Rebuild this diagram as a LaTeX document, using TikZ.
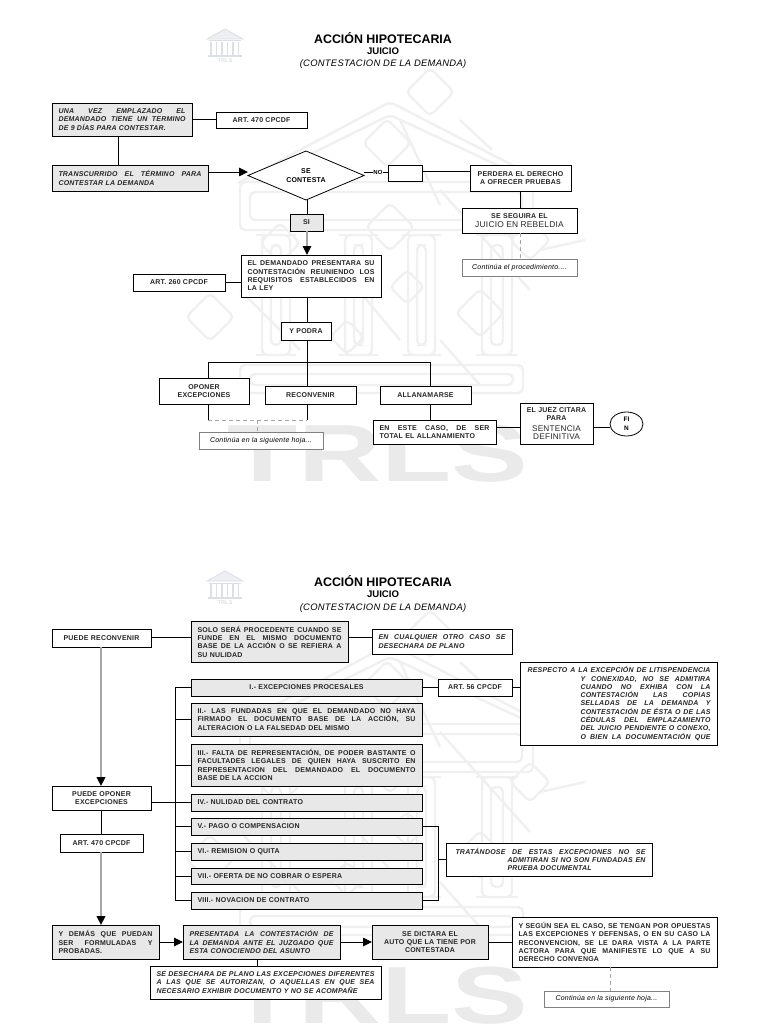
\documentclass[tikz,border=0pt]{standalone}
\usepackage{fontspec}
\setmainfont[LetterSpace=3]{Liberation Sans}
\newfontfamily\tfont{Liberation Sans}
\usetikzlibrary{arrows.meta,shapes.geometric,calc}
\definecolor{wm}{HTML}{F0F0F0}
\definecolor{wmt}{HTML}{EAEAEA}
\definecolor{logoc}{HTML}{DDDFE6}
\definecolor{boxg}{HTML}{E8E8E8}
\tikzset{
  x=1pt,y=-1pt,
  basebox/.style={draw=black,line width=.9pt,inner sep=0pt,outer sep=0pt,inner xsep=6.5pt,font=\fontsize{7}{8.3}\selectfont\bfseries,align=center,text=black!85},
  whitebox/.style={basebox,fill=white},
  greybox/.style={basebox,fill=boxg},
  leftbox/.style={align=left},
  itbox/.style={font=\fontsize{7}{8.3}\selectfont\bfseries\itshape},
  softbox/.style={draw=black!50,line width=.8pt,fill=white,inner sep=0pt,outer sep=0pt,align=center,font=\fontsize{7}{8}\selectfont\itshape,text=black},
  ln/.style={draw=black,line width=.9pt},
  gln/.style={draw=black!35,line width=1.4pt},
  arr/.style={-{Triangle[length=9pt,width=8.5pt,color=black]}},
  dsh/.style={draw=black!35,line width=.8pt,dash pattern=on 4pt off 3pt},
  wmline/.style={draw=wm,line width=2.4pt,rounded corners=5pt},
  ttl/.style={inner sep=0pt,text=black},
}
\newcommand\bx[7]{%
  \pgfmathsetmacro\bcx{(#2+#4)/2}\pgfmathsetmacro\bcy{(#3+#5)/2}%
  \pgfmathsetmacro\bw{#4-#2}\pgfmathsetmacro\bh{#5-#3}\pgfmathsetmacro\btw{#4-#2-13}%
  \node[#6,minimum width=\bw pt,minimum height=\bh pt,text width=\btw pt] (#1) at (\bcx,\bcy) {#7};}
\newcommand\jl[1]{\makebox[\hsize][s]{\spaceskip=1.9pt plus 1fil minus .6pt\relax #1}\\}
\newcommand\jw[2]{\makebox[#1pt][s]{\spaceskip=1.9pt plus 1fil minus .6pt\relax #2}\\}
\newcommand\dm[3]{\draw[wmline] (#1-#3,#2) -- (#1,#2-#3) -- (#1+#3,#2) -- (#1,#2+#3) -- cycle;}
\newcommand\watermark{%
  \draw[wmline] (238,183) -- (390,102) -- (547,183);
  \draw[wmline] (262,178) -- (390,115) -- (525,178);
  \draw[wmline] (240,182) rectangle (533,230);
  \draw[wmline] (250,192) rectangle (522,220);
  \foreach \cxa/\cxb in {262/290,345/372,408/435,482/512}{
    \draw[wmline] (\cxa,235) rectangle (\cxb,355);
    \draw[wmline] ({\cxa+9},245) rectangle ({\cxb-9},345);
    \draw[wmline] (\cxa-6,235) -- (\cxb+6,235);
    \draw[wmline] (\cxa-6,355) -- (\cxb+6,355);
  }
  \draw[wmline] (240,365) rectangle (523,393);
  \draw[wmline] (250,374) rectangle (513,385);
  \dm{430}{92}{24}\dm{387}{143}{24}\dm{390}{227}{24}\dm{210}{317}{24}
  \dm{480}{313}{24}\dm{347}{337}{17}\dm{407}{287}{17}\dm{530}{240}{20}\dm{280}{243}{20}
  \draw[wmline] (460,120) -- (492,150);
  \draw[wmline] (440,190) -- (530,290);
  \draw[wmline] (400,120) -- (440,205);
  \draw[wmline] (240,290) -- (300,350);
  \draw[wmline] (540,250) -- (585,240);
  \draw[wmline] (350,280) -- (400,340);
  \draw[wmline] (440,340) -- (480,385);
  \node[inner sep=0pt,xscale=1.42,transform shape,text=wmt,anchor=base] at (378,481)
    {\tfont\fontsize{81}{81}\selectfont\bfseries TRLS};
}
\newcommand\minilogo{%
  \draw[logoc,line width=.8pt,fill=logoc!50] (207,39) -- (225,29) -- (243,39) -- cycle;
  \draw[logoc,line width=1pt] (209,41) -- (241,41);
  \foreach \lx in {211,216.5,222,227.5,233,238.5}{\draw[logoc,line width=1.6pt] (\lx,42) -- (\lx,55);}
  \draw[logoc,line width=1.2pt] (208,56) -- (242,56);
  \node[inner sep=0pt,text=logoc] at (225,61) {\fontsize{5.5}{6}\selectfont\bfseries TRLS};
}
\begin{document}
\begin{tikzpicture}
\useasboundingbox (0,0) rectangle (768,1024);
\fill[white] (0,0) rectangle (768,1024);
\begin{scope}
\clip (0,0) rectangle (768,1024);
\begin{scope}\watermark\end{scope}
\begin{scope}[shift={(0,542)}]\watermark\end{scope}
\begin{scope}\minilogo\end{scope}
\begin{scope}[shift={(0,542)}]\minilogo\end{scope}
\end{scope}

% ---- titles
\node[ttl] (t1) at (383,38.5) {\tfont\fontsize{12.4}{14}\selectfont\bfseries ACCIÓN HIPOTECARIA};
\node[ttl] (t2) at (383,51) {\tfont\fontsize{9.6}{11}\selectfont\bfseries JUICIO};
\node[ttl] (t3) at (383,64.5) {\fontsize{9.4}{11}\selectfont\itshape (CONTESTACION DE LA DEMANDA)};
\node[ttl] (t4) at (383,581) {\tfont\fontsize{12.4}{14}\selectfont\bfseries ACCIÓN HIPOTECARIA};
\node[ttl] (t5) at (383,594) {\tfont\fontsize{9.6}{11}\selectfont\bfseries JUICIO};
\node[ttl] (t6) at (383,608) {\fontsize{9.4}{11}\selectfont\itshape (CONTESTACION DE LA DEMANDA)};

% ---- page 1 nodes
\bx{a1}{52}{103}{192}{136}{greybox,leftbox,itbox}{\jl{UNA VEZ EMPLAZADO EL}\jl{DEMANDADO TIENE UN TERMINO}DE 9 DÍAS PARA CONTESTAR.}
\bx{a2}{216}{112}{307}{128}{whitebox}{ART. 470 CPCDF}
\bx{a3}{52}{165}{208}{191}{greybox,leftbox,itbox}{\jl{TRANSCURRIDO EL TÉRMINO PARA}CONTESTAR LA DEMANDA}
\node[diamond,draw=black,line width=.8pt,fill=white,aspect=2.37,minimum width=116pt,minimum height=49pt,inner sep=0pt,outer sep=0pt,align=center,font=\fontsize{7}{9}\selectfont\bfseries] (dia) at (306,175.5) {SE\\CONTESTA};
\bx{si}{290}{214}{323}{231}{greybox}{SI}
\bx{a4}{241}{255}{381}{297}{whitebox,leftbox}{\jl{EL DEMANDADO PRESENTARA SU}\jl{CONTESTACIÓN REUNIENDO LOS}\jl{REQUISITOS ESTABLECIDOS EN}LA LEY}
\bx{a5}{133}{274}{225}{291}{whitebox}{ART. 260 CPCDF}
\bx{noe}{388}{165}{422}{181}{whitebox}{}
\bx{a6}{470}{165}{571}{191}{whitebox}{PERDERA EL DERECHO\\A OFRECER PRUEBAS}
\bx{a7}{462}{208}{577}{233}{whitebox}{SE SEGUIRA EL\\{\mdseries\fontsize{8.4}{9.4}\selectfont JUICIO EN REBELDIA}}
\node[softbox,minimum width=115pt,minimum height=17pt] (a8) at (519.5,267.5) {Continúa el procedimiento....};
\bx{a9}{281}{322}{331}{340}{whitebox}{Y PODRA}
\bx{b1}{159}{378}{249}{404}{whitebox}{OPONER\\EXCEPCIONES}
\bx{b2}{265}{386}{356}{404}{whitebox}{RECONVENIR}
\bx{b3}{380}{386}{471}{404}{whitebox}{ALLANAMARSE}
\node[softbox,minimum width=124pt,minimum height=17pt] (b4) at (261,440.5) {Continúa en la siguiente hoja...};
\bx{b5}{373}{420}{496}{444}{whitebox,leftbox}{\jl{EN ESTE CASO, DE SER}TOTAL EL ALLANAMIENTO}
\bx{b6}{520}{403}{593}{444}{whitebox}{EL JUEZ CITARA\\PARA\\[1pt]{\mdseries\fontsize{8.2}{9.6}\selectfont SENTENCIA\\DEFINITIVA}}
\node[ellipse,draw=black,line width=.8pt,fill=white,minimum width=33pt,minimum height=24pt,inner sep=0pt,outer sep=0pt,align=center,font=\fontsize{6.5}{8.5}\selectfont\bfseries] (fin) at (626.5,424) {FI\\N};

% ---- page 1 connector reference points
\coordinate (v1) at (118,0);
\coordinate (v2) at (520,0);
\coordinate (v3) at (208,0);
\coordinate (v4) at (307,0);
\coordinate (v5) at (430,0);
\coordinate (v6) at (257,0);
\coordinate (h1) at (0,172);
\coordinate (h2) at (0,171);
\coordinate (h3) at (0,362);
\coordinate (h4) at (0,420);
\coordinate (h5) at (0,427);

\draw[ln] (a1.east) -- (a1.east -| a2.west);
\draw[ln] (v1 |- a1.south) -- (v1 |- a3.north);
\draw[ln,arr] (a3.east |- h1) -- (dia.west |- h1);
\draw[ln] (dia.east |- h1) -- (noe.west |- h1);
\node[fill=white,inner sep=.5pt,font=\fontsize{6}{7}\selectfont\bfseries] (notx) at (378,172) {NO};
\draw[ln] (noe.east |- h2) -- (a6.west |- h2);
\draw[ln] (v2 |- a6.south) -- (v2 |- a7.north);
\draw[dsh] (v2 |- a7.south) -- (v2 |- a8.north);
\draw[ln] (dia.south -| v4) -- (v4 |- si.north);
\draw[gln,arr] (v4 |- si.south) -- (v4 |- a4.north);
\draw[ln] (a5.east) -- (a5.east -| a4.west);
\draw[ln] (v4 |- a4.south) -- (v4 |- a9.north);
\draw[ln] (v4 |- a9.south) -- (v4 |- b2.north);
\draw[ln] (v3 |- b1.north) -- (v3 |- h3) -- (v5 |- h3) -- (v5 |- b3.north);
\draw[ln] (v3 |- b1.south) -- (v3 |- h4);
\draw[ln] (v4 |- b2.south) -- (v4 |- h4);
\draw[dsh] (v3 |- h4) -- (v4 |- h4);
\draw[dsh] (v6 |- h4) -- (v6 |- b4.north);
\draw[ln] (v5 |- b3.south) -- (v5 |- b5.north);
\draw[ln] (b5.east |- h5) -- (b6.west |- h5);
\draw[ln] (b6.east |- h5) -- (fin.west |- h5);

% ---- page 2 nodes
\bx{c1}{52}{629}{151}{647}{whitebox}{PUEDE RECONVENIR}
\bx{c2}{191}{621}{348}{662}{greybox,leftbox}{\jl{SOLO SERÁ PROCEDENTE CUANDO SE}\jl{FUNDE EN EL MISMO DOCUMENTO}\jl{BASE DE LA ACCIÓN O SE REFIERA A}SU NULIDAD}
\bx{c3}{372}{629}{512}{654}{whitebox,leftbox,itbox}{\jl{EN CUALQUIER OTRO CASO SE}DESECHARA DE PLANO}
\bx{e1}{191}{679}{422}{696}{greybox}{I.- EXCEPCIONES PROCESALES}
\bx{e2}{191}{703}{422}{736}{greybox,leftbox}{\jl{II.- LAS FUNDADAS EN QUE EL DEMANDADO NO HAYA}\jl{FIRMADO EL DOCUMENTO BASE DE LA ACCIÓN, SU}ALTERACION O LA FALSEDAD DEL MISMO}
\bx{e3}{191}{744}{422}{786}{greybox,leftbox}{\jl{III.- FALTA DE REPRESENTACIÓN, DE PODER BASTANTE O}\jl{FACULTADES LEGALES DE QUIEN HAYA SUSCRITO EN}\jl{REPRESENTACION DEL DEMANDADO EL DOCUMENTO}BASE DE LA ACCION}
\bx{e4}{191}{794}{422}{811}{greybox,leftbox}{IV.- NULIDAD DEL CONTRATO}
\bx{e5}{191}{818}{422}{835}{greybox,leftbox}{V.- PAGO O COMPENSACION}
\bx{e6}{191}{843}{422}{860}{greybox,leftbox}{VI.- REMISION O QUITA}
\bx{e7}{191}{868}{422}{884}{greybox,leftbox}{VII.- OFERTA DE NO COBRAR O ESPERA}
\bx{e8}{191}{892}{422}{909}{greybox,leftbox}{VIII.- NOVACION DE CONTRATO}
\bx{d1}{438}{679}{512}{696}{whitebox}{ART. 56 CPCDF}
\bx{d2}{520}{662}{717}{745}{whitebox,itbox,align=right}{%
 \jw{183}{RESPECTO A LA EXCEPCIÓN DE LITISPENDENCIA}
 \jw{130}{Y CONEXIDAD, NO SE ADMITIRA}
 \jw{130}{CUANDO NO EXHIBA CON LA}
 \jw{130}{CONTESTACIÓN LAS COPIAS}
 \jw{130}{SELLADAS DE LA DEMANDA Y}
 \jw{130}{CONTESTACIÓN DE ÉSTA O DE LAS}
 \jw{130}{CÉDULAS DEL EMPLAZAMIENTO}
 \jw{130}{DEL JUICIO PENDIENTE O CONEXO,}
 \makebox[130pt][s]{\spaceskip=1.9pt plus 1fil minus .6pt\relax O BIEN LA DOCUMENTACIÓN QUE}}
\bx{d3}{446}{843}{652}{876}{whitebox,itbox,align=right}{%
 \jw{190}{TRATÁNDOSE DE ESTAS EXCEPCIONES NO SE}
 \jw{138}{ADMITIRAN SI NO SON FUNDADAS EN}
 \makebox[138pt][l]{PRUEBA DOCUMENTAL}}
\bx{c4}{52}{786}{151}{810}{whitebox}{PUEDE OPONER\\EXCEPCIONES}
\bx{c5}{60}{834}{143}{852}{whitebox}{ART. 470 CPCDF}
\bx{f1}{52}{925}{159}{959}{greybox,leftbox}{\jl{Y DEMÁS QUE PUEDAN}\jl{SER FORMULADAS Y}PROBADAS.}
\bx{f2}{183}{925}{340}{959}{greybox,leftbox,itbox}{\jl{PRESENTADA LA CONTESTACIÓN DE}\jl{LA DEMANDA ANTE EL JUZGADO QUE}ESTA CONOCIENDO DEL ASUNTO}
\bx{f3}{372}{925}{488}{959}{greybox}{SE DICTARA EL\\AUTO QUE LA TIENE POR\\CONTESTADA}
\bx{f4}{512}{917}{717}{967}{whitebox,leftbox}{\jl{Y SEGÚN SEA EL CASO, SE TENGAN POR OPUESTAS}\jl{LAS EXCEPCIONES Y DEFENSAS, O EN SU CASO LA}\jl{RECONVENCION, SE LE DARA VISTA A LA PARTE}\jl{ACTORA PARA QUE MANIFIESTE LO QUE A SU}DERECHO CONVENGA}
\bx{f5}{150}{966}{381}{999}{whitebox,leftbox,itbox}{\jl{SE DESECHARA DE PLANO LAS EXCEPCIONES DIFERENTES}\jl{A LAS QUE SE AUTORIZAN, O AQUELLAS EN QUE SEA}NECESARIO EXHIBIR DOCUMENTO Y NO SE ACOMPAÑE}
\node[softbox,minimum width=125pt,minimum height=16pt] (f6) at (606.5,999) {Continúa en la siguiente hoja...};

% ---- page 2 connector reference points
\coordinate (w1) at (101,0);
\coordinate (w2) at (175,0);
\coordinate (w3) at (438,0);
\coordinate (w4) at (257,0);
\coordinate (w5) at (610,0);
\coordinate (k1) at (0,637);
\coordinate (k3) at (0,942);

\draw[ln] (c1.east |- k1) -- (c2.west |- k1);
\draw[ln] (c2.east |- k1) -- (c3.west |- k1);
\draw[gln,line width=2.4pt,arr] (w1 |- c1.south) -- (w1 |- c4.north);
\draw[ln] (w1 |- c4.south) -- (w1 |- c5.north);
\draw[gln,line width=2.4pt,arr] (w1 |- c5.south) -- (w1 |- f1.north);
\draw[ln] (w2 |- e1.west) -- (w2 |- e8.west);
\foreach \en in {e1,e2,e3,e4,e5,e6,e7,e8}{\draw[ln] (w2 |- \en.west) -- (\en.west);}
\draw[ln] (c4.east |- e4.west) -- (w2 |- e4.west);
\draw[ln] (e1.east) -- (d1.west |- e1.east);
\draw[ln] (d1.east) -- (d1.east -| d2.west);
\draw[ln] (e5.east) -- (w3 |- e5.east) -- (w3 |- e8.east) -- (e8.east);
\draw[ln] (w3 |- d3.west) -- (d3.west);
\draw[ln,arr] (f1.east |- k3) -- (f2.west |- k3);
\draw[ln,arr] (f2.east |- k3) -- (f3.west |- k3);
\draw[ln] (f3.east |- k3) -- (f4.west |- k3);
\draw[ln] (w4 |- f2.south) -- (w4 |- f5.north);
\draw[dsh] (w5 |- f4.south) -- (w5 |- f6.north);
\end{tikzpicture}
\end{document}
